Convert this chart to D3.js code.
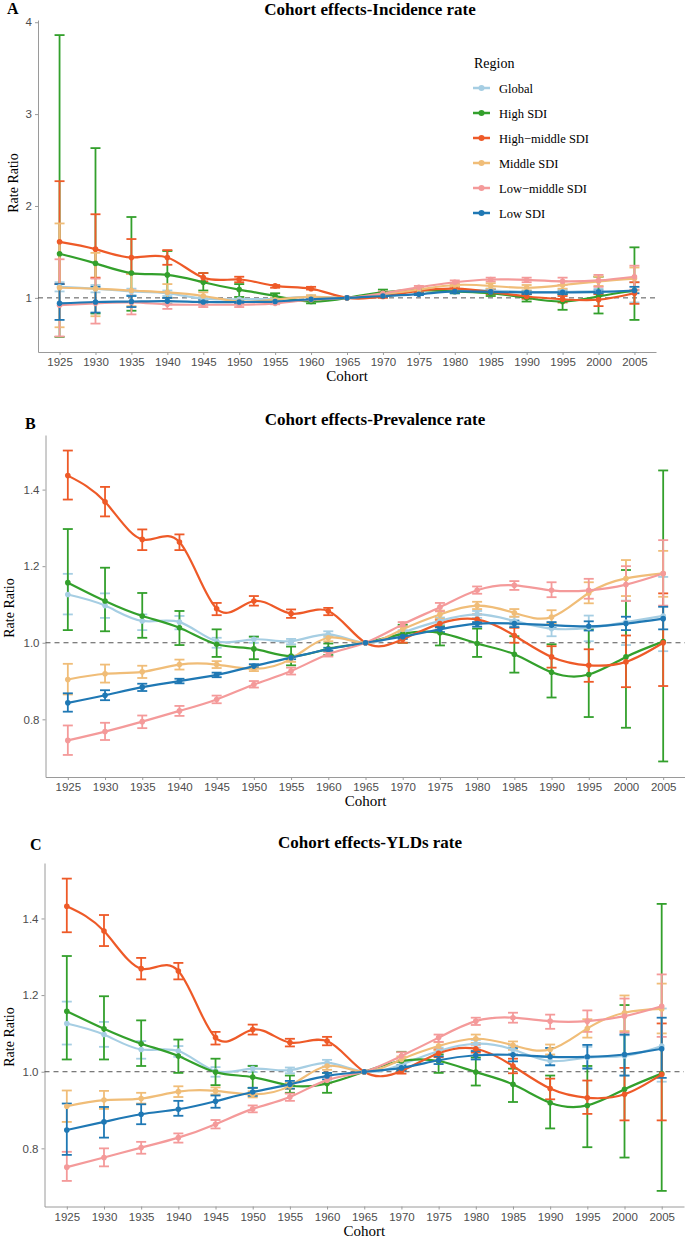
<!DOCTYPE html>
<html><head><meta charset="utf-8">
<script src="https://cdn.jsdelivr.net/npm/d3@7"></script>
<style>body{margin:0;background:#fff}svg{display:block}</style>
</head><body>
<script>
// ---------- DATA ----------
const cohorts = [1925,1930,1935,1940,1945,1950,1955,1960,1965,1970,1975,1980,1985,1990,1995,2000,2005];
const regions = ["Global","High SDI","High\u2212middle SDI","Middle SDI","Low\u2212middle SDI","Low SDI"];
const colors = ["#a6cee3","#33a02c","#ee5a28","#f0bd78","#f49a9a","#1f78b4"];
const yTicksA = [1,2,3,4];
const yTicksBC = [0.8,1.0,1.2,1.4];

// each entry: [estimate, lower, upper]
// Panel A - Incidence
const incGlobal = [[1.12,1.07,1.17],[1.10,1.06,1.14],[1.07,1.03,1.10],[1.05,1.02,1.08],[0.99,0.97,1.01],[0.985,0.97,1.00],[0.99,0.98,1.00],[1.01,1.00,1.02],[1,1,1],[1.03,1.02,1.04],[1.08,1.07,1.09],[1.085,1.07,1.10],[1.08,1.06,1.10],[1.065,1.05,1.08],[1.065,1.04,1.09],[1.07,1.04,1.10],[1.06,0.95,1.17]];
const incHigh = [[1.48,0.575,3.86],[1.375,0.83,2.63],[1.27,0.86,1.88],[1.25,1.0,1.51],[1.17,1.08,1.27],[1.09,1.01,1.15],[1.02,0.98,1.05],[0.96,0.94,0.98],[1,1,1],[1.06,1.03,1.09],[1.085,1.06,1.11],[1.07,1.05,1.10],[1.05,1.02,1.08],[1.0,0.96,1.04],[0.96,0.87,1.04],[1.015,0.83,1.23],[1.08,0.76,1.55]];
const incHighMid = [[1.61,1.15,2.27],[1.53,1.22,1.91],[1.44,1.26,1.64],[1.44,1.36,1.52],[1.22,1.18,1.27],[1.20,1.17,1.23],[1.13,1.11,1.14],[1.10,1.09,1.12],[1,1,1],[1.015,1.0,1.03],[1.075,1.06,1.09],[1.10,1.08,1.12],[1.065,1.04,1.09],[1.015,0.99,1.04],[0.985,0.95,1.02],[0.98,0.91,1.04],[1.05,0.935,1.17]];
const incMid = [[1.11,0.68,1.81],[1.10,0.80,1.49],[1.08,0.91,1.26],[1.06,0.96,1.15],[1.02,0.98,1.06],[0.96,0.94,0.99],[0.98,0.96,1.00],[1.01,0.99,1.03],[1,1,1],[1.04,1.02,1.06],[1.09,1.07,1.11],[1.14,1.12,1.16],[1.13,1.10,1.16],[1.11,1.08,1.14],[1.14,1.10,1.18],[1.18,1.13,1.23],[1.21,1.08,1.33]];
const incLowMid = [[0.92,0.58,1.42],[0.94,0.72,1.21],[0.95,0.82,1.08],[0.93,0.88,1.00],[0.925,0.90,0.96],[0.925,0.90,0.95],[0.94,0.93,0.96],[0.98,0.97,1.00],[1,1,1],[1.05,1.03,1.07],[1.115,1.10,1.13],[1.17,1.15,1.19],[1.20,1.18,1.22],[1.195,1.17,1.22],[1.18,1.14,1.22],[1.19,1.12,1.25],[1.23,1.09,1.35]];
const incLow = [[0.94,0.76,1.15],[0.955,0.84,1.12],[0.96,0.90,1.02],[0.965,0.93,1.0],[0.955,0.93,0.98],[0.955,0.94,0.97],[0.96,0.95,0.98],[0.985,0.97,1.0],[1,1,1],[1.02,1.01,1.03],[1.04,1.03,1.05],[1.07,1.05,1.08],[1.065,1.05,1.08],[1.06,1.04,1.07],[1.06,1.04,1.07],[1.065,1.05,1.08],[1.08,1.05,1.12]];

// Panel B - Prevalence
const prvGlobal = [[1.126,1.074,1.18],[1.097,1.065,1.129],[1.057,1.033,1.074],[1.054,1.035,1.07],[1.004,0.987,1.013],[1.009,1.0,1.016],[1.004,0.996,1.01],[1.022,1.015,1.03],[1,1,1],[1.026,1.02,1.033],[1.057,1.048,1.066],[1.074,1.065,1.083],[1.057,1.047,1.068],[1.037,1.017,1.05],[1.039,1.004,1.071],[1.054,0.994,1.11],[1.07,0.978,1.172]];
const prvHigh = [[1.157,1.033,1.297],[1.109,1.03,1.196],[1.07,1.013,1.13],[1.039,0.994,1.083],[0.996,0.963,1.035],[0.984,0.957,1.016],[0.965,0.941,0.99],[0.984,0.968,0.998],[1,1,1],[1.023,1.0,1.047],[1.026,0.993,1.043],[0.998,0.963,1.037],[0.97,0.922,1.017],[0.923,0.857,0.996],[0.917,0.806,1.035],[0.963,0.778,1.19],[1.003,0.69,1.45]];
const prvHighMid = [[1.4365,1.374,1.502],[1.368,1.33,1.407],[1.27,1.242,1.296],[1.263,1.242,1.283],[1.089,1.072,1.104],[1.109,1.097,1.122],[1.076,1.065,1.087],[1.083,1.072,1.091],[1,1,1],[1.009,1.0,1.015],[1.05,1.04,1.06],[1.061,1.05,1.074],[1.019,1.0,1.039],[0.963,0.935,0.991],[0.941,0.898,0.983],[0.95,0.884,1.019],[1.0,0.887,1.129]];
const prvMid = [[0.904,0.865,0.945],[0.919,0.896,0.943],[0.924,0.908,0.94],[0.943,0.93,0.956],[0.943,0.934,0.952],[0.932,0.926,0.939],[0.958,0.95,0.965],[1.013,1.004,1.019],[1,1,1],[1.035,1.028,1.042],[1.074,1.063,1.084],[1.097,1.088,1.107],[1.078,1.068,1.088],[1.067,1.05,1.085],[1.13,1.103,1.158],[1.168,1.122,1.216],[1.181,1.12,1.24]];
const prvLowMid = [[0.745,0.707,0.784],[0.768,0.746,0.791],[0.794,0.777,0.81],[0.822,0.809,0.835],[0.852,0.842,0.862],[0.891,0.883,0.9],[0.926,0.917,0.935],[0.97,0.964,0.976],[1,1,1],[1.048,1.042,1.054],[1.093,1.082,1.104],[1.137,1.128,1.147],[1.15,1.138,1.161],[1.137,1.119,1.158],[1.137,1.115,1.167],[1.152,1.109,1.2],[1.181,1.097,1.268]];
const prvLow = [[0.843,0.82,0.868],[0.863,0.85,0.876],[0.884,0.874,0.893],[0.9,0.894,0.906],[0.916,0.91,0.922],[0.939,0.935,0.944],[0.961,0.957,0.965],[0.983,0.979,0.987],[1,1,1],[1.016,1.01,1.022],[1.035,1.028,1.041],[1.05,1.042,1.054],[1.05,1.041,1.058],[1.046,1.038,1.054],[1.043,1.032,1.056],[1.05,1.033,1.068],[1.063,1.035,1.094]];

// Panel C - YLDs
const yldGlobal = [[1.126,1.071,1.183],[1.097,1.065,1.13],[1.058,1.034,1.08],[1.054,1.039,1.067],[1.002,0.987,1.012],[1.008,0.999,1.016],[1.004,0.996,1.011],[1.023,1.014,1.031],[1,1,1],[1.019,1.012,1.026],[1.054,1.045,1.063],[1.073,1.063,1.083],[1.058,1.047,1.068],[1.028,1.016,1.04],[1.037,1.01,1.065],[1.041,0.99,1.095],[1.067,0.974,1.165]];
const yldHigh = [[1.158,1.032,1.302],[1.112,1.032,1.197],[1.073,1.015,1.134],[1.041,0.997,1.084],[0.999,0.965,1.034],[0.986,0.958,1.015],[0.964,0.945,0.99],[0.969,0.945,0.997],[1,1,1],[1.028,1.005,1.052],[1.028,0.997,1.045],[0.999,0.964,1.037],[0.967,0.921,1.008],[0.919,0.852,0.99],[0.912,0.803,1.015],[0.954,0.776,1.174],[0.995,0.689,1.438]];
const yldHighMid = [[1.432,1.364,1.504],[1.367,1.328,1.409],[1.269,1.241,1.297],[1.263,1.241,1.284],[1.089,1.071,1.104],[1.11,1.097,1.123],[1.076,1.066,1.086],[1.08,1.069,1.091],[1,1,1],[1.002,0.995,1.008],[1.048,1.038,1.058],[1.06,1.05,1.071],[1.015,0.996,1.034],[0.956,0.928,0.982],[0.932,0.89,0.977],[0.941,0.873,1.01],[0.993,0.873,1.126]];
const yldMid = [[0.91,0.869,0.951],[0.926,0.903,0.95],[0.93,0.917,0.945],[0.948,0.934,0.962],[0.95,0.941,0.959],[0.941,0.933,0.949],[0.963,0.955,0.971],[1.015,1.005,1.023],[1,1,1],[1.032,1.025,1.04],[1.067,1.056,1.077],[1.086,1.075,1.097],[1.069,1.057,1.079],[1.058,1.045,1.071],[1.113,1.089,1.137],[1.154,1.106,1.199],[1.164,1.1,1.23]];
const yldLowMid = [[0.751,0.715,0.791],[0.776,0.753,0.8],[0.802,0.786,0.817],[0.828,0.815,0.839],[0.863,0.852,0.874],[0.903,0.894,0.912],[0.934,0.924,0.943],[0.978,0.97,0.986],[1,1,1],[1.041,1.03,1.051],[1.089,1.078,1.097],[1.132,1.122,1.141],[1.141,1.128,1.154],[1.132,1.112,1.149],[1.132,1.104,1.16],[1.145,1.102,1.191],[1.171,1.091,1.254]];
const yldLow = [[0.848,0.783,0.917],[0.869,0.828,0.908],[0.889,0.863,0.915],[0.902,0.885,0.924],[0.923,0.906,0.938],[0.947,0.937,0.958],[0.967,0.956,0.976],[0.989,0.98,0.997],[1,1,1],[1.01,1.003,1.017],[1.03,1.02,1.04],[1.043,1.032,1.054],[1.044,1.027,1.062],[1.039,1.017,1.062],[1.039,1.008,1.07],[1.045,0.99,1.097],[1.06,0.984,1.141]];

// ---------- LAYOUT ----------
const W = 685, H = 1237;
const serif = "'Liberation Serif','Times New Roman',serif";
const sans = "'Liberation Sans',Arial,sans-serif";
const panels = [
  {letter:"A", title:"Cohort effects-Incidence rate", series:[incGlobal,incHigh,incHighMid,incMid,incLowMid,incLow],
   ticks:yTicksA, fmt:d3.format("d"), left:38, right:656, top:20, bottom:352, titleX:370, titleY:15, letterX:7, letterY:14, ylabX:18, ylabY:183, legend:true},
  {letter:"B", title:"Cohort effects-Prevalence rate", series:[prvGlobal,prvHigh,prvHighMid,prvMid,prvLowMid,prvLow],
   ticks:yTicksBC, fmt:d3.format(".1f"), left:45.5, right:685.5, top:435, bottom:777, titleX:375, titleY:425, letterX:25, letterY:429, ylabX:13.5, ylabY:608},
  {letter:"C", title:"Cohort effects-YLDs rate", series:[yldGlobal,yldHigh,yldHighMid,yldMid,yldLowMid,yldLow],
   ticks:yTicksBC, fmt:d3.format(".1f"), left:44.5, right:684, top:863, bottom:1206.5, titleX:370, titleY:848, letterX:30, letterY:850, ylabX:13.5, ylabY:1037}
];

const svg = d3.select("body").append("svg").attr("width",W).attr("height",H);

panels.forEach(p => {
  const g = svg.append("g");
  const x = d3.scalePoint().domain(cohorts).range([p.left,p.right]).padding(0.6);
  const all = p.series.flat();
  const lo = d3.min(all, d=>d[1]), hi = d3.max(all, d=>d[2]);
  const pad = (hi-lo)*0.05;
  const y = d3.scaleLinear().domain([lo-pad, hi+pad]).range([p.bottom,p.top]);

  // axes
  const xa = g.append("g").attr("transform",`translate(0,${p.bottom})`)
    .call(d3.axisBottom(x).tickSize(3).tickPadding(3).tickSizeOuter(0));
  const ya = g.append("g").attr("transform",`translate(${p.left},0)`)
    .call(d3.axisLeft(y).tickValues(p.ticks).tickFormat(p.fmt).tickSize(3).tickPadding(3).tickSizeOuter(0));
  [xa,ya].forEach(a=>{
    a.select(".domain").attr("stroke","#9a9a9a").attr("stroke-width",1);
    a.selectAll(".tick line").attr("stroke","#9a9a9a");
    a.selectAll("text").attr("fill","#4d4d4d").style("font-family",sans).style("font-size","11.5px");
  });

  // reference line
  g.append("line").attr("x1",p.left).attr("x2",p.right).attr("y1",y(1)).attr("y2",y(1))
    .attr("stroke","#555").attr("stroke-width",1).attr("stroke-dasharray","5,4");

  // error bars
  p.series.forEach((s,i)=>{
    const eg = g.append("g").attr("stroke",colors[i]).attr("stroke-width",1.8).attr("fill","none");
    s.forEach((d,j)=>{
      const cx = x(cohorts[j]);
      if (d[2]-d[1] <= 0) return;
      eg.append("line").attr("x1",cx).attr("x2",cx).attr("y1",y(d[1])).attr("y2",y(d[2]));
      eg.append("line").attr("x1",cx-5).attr("x2",cx+5).attr("y1",y(d[1])).attr("y2",y(d[1]));
      eg.append("line").attr("x1",cx-5).attr("x2",cx+5).attr("y1",y(d[2])).attr("y2",y(d[2]));
    });
  });
  // lines
  const line = d3.line().x((d,j)=>x(cohorts[j])).y(d=>y(d[0])).curve(d3.curveNatural);
  p.series.forEach((s,i)=>{
    g.append("path").datum(s).attr("d",line).attr("fill","none").attr("stroke",colors[i]).attr("stroke-width",2.2);
  });
  // points
  p.series.forEach((s,i)=>{
    g.append("g").selectAll("circle").data(s).join("circle")
      .attr("cx",(d,j)=>x(cohorts[j])).attr("cy",d=>y(d[0])).attr("r",2.8).attr("fill",colors[i]);
  });

  // titles
  g.append("text").attr("x",p.titleX).attr("y",p.titleY).attr("text-anchor","middle")
    .style("font-family",serif).style("font-weight","bold").style("font-size","17px").text(p.title);
  g.append("text").attr("x",p.letterX).attr("y",p.letterY)
    .style("font-family",serif).style("font-weight","bold").style("font-size","16px").text(p.letter);
  g.append("text").attr("transform",`translate(${p.ylabX},${p.ylabY}) rotate(-90)`)
    .attr("text-anchor","middle").style("font-family",serif).style("font-size","14px").text("Rate Ratio");
  g.append("text").attr("x",(p.left+p.right)/2).attr("y",p.bottom+29).attr("text-anchor","middle")
    .style("font-family",serif).style("font-size","15px").text("Cohort");

  if (p.legend) {
    const lg = g.append("g");
    lg.append("text").attr("x",474).attr("y",68).style("font-family",serif).style("font-size","14px").text("Region");
    regions.forEach((r,i)=>{
      const ly = 88 + i*25;
      lg.append("line").attr("x1",473).attr("x2",490).attr("y1",ly).attr("y2",ly).attr("stroke",colors[i]).attr("stroke-width",2.5);
      lg.append("circle").attr("cx",481.5).attr("cy",ly).attr("r",3).attr("fill",colors[i]);
      lg.append("text").attr("x",499).attr("y",ly+4.5).style("font-family",serif).style("font-size","12.5px").text(r);
    });
  }
});
</script>
</body></html>
